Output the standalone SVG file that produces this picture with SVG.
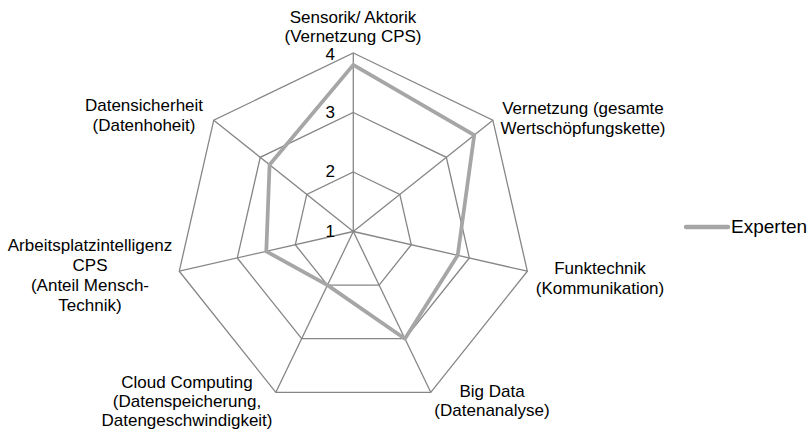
<svg xmlns="http://www.w3.org/2000/svg" width="810" height="429" viewBox="0 0 810 429">
<style>
.grid{fill:none;stroke:#868686;stroke-width:1.3}
.data{fill:none;stroke:#A6A6A6;stroke-width:3.75;stroke-linejoin:round;stroke-linecap:round}
text{font-family:"Liberation Sans",Arial,sans-serif;font-size:17px;fill:#000}
.c{text-anchor:middle}
.e{text-anchor:end}
</style>
<rect width="810" height="429" fill="#fff"/>
<g id="grid">
<polygon class="grid" points="353.3,172 399.82,194.4 411.31,244.74 379.12,285.11 327.48,285.11 295.29,244.74 306.78,194.4"/>
<polygon class="grid" points="353.3,112.5 446.34,157.31 469.32,257.98 404.93,338.72 301.67,338.72 237.28,257.98 260.26,157.31"/>
<polygon class="grid" points="353.3,53 492.86,120.21 527.33,271.22 430.75,392.32 275.85,392.32 179.27,271.22 213.74,120.21"/>
<g id="connectors">
<line class="grid" x1="353.3" y1="231.5" x2="353.3" y2="53"/>
<line class="grid" x1="353.3" y1="231.5" x2="492.86" y2="120.21"/>
<line class="grid" x1="353.3" y1="231.5" x2="527.33" y2="271.22"/>
<line class="grid" x1="353.3" y1="231.5" x2="430.75" y2="392.32"/>
<line class="grid" x1="353.3" y1="231.5" x2="275.85" y2="392.32"/>
<line class="grid" x1="353.3" y1="231.5" x2="179.27" y2="271.22"/>
<line class="grid" x1="353.3" y1="231.5" x2="213.74" y2="120.21"/>
</g>
</g>
<g id="ticks">
<text class="e" x="335" y="60">4</text>
<text class="e" x="335" y="117.5">3</text>
<text class="e" x="335" y="177">2</text>
<text class="e" x="335" y="237">1</text>
</g>
<g id="series-experten">
<polygon class="data" points="353.3,64.9 474.25,135.05 457.71,255.33 404.93,338.72 327.48,285.11 266.29,251.36 269.57,164.72"/>
</g>
<g id="axis-sensorik">
<text class="c" x="353" y="22.5">Sensorik/ Aktorik</text>
<text class="c" x="353" y="42">(Vernetzung CPS)</text>
</g>
<g id="axis-vernetzung">
<text class="c" x="583" y="113.5">Vernetzung (gesamte</text>
<text class="c" x="583" y="133.5">Wertschöpfungskette)</text>
</g>
<g id="axis-funktechnik">
<text class="c" x="600" y="274">Funktechnik</text>
<text class="c" x="600" y="293.5">(Kommunikation)</text>
</g>
<g id="axis-bigdata">
<text class="c" x="492" y="396.5">Big Data</text>
<text class="c" x="492" y="415.5">(Datenanalyse)</text>
</g>
<g id="axis-cloud">
<text class="c" x="187" y="387.5">Cloud Computing</text>
<text class="c" x="187" y="406.5">(Datenspeicherung,</text>
<text class="c" x="187" y="425.5">Datengeschwindigkeit)</text>
</g>
<g id="axis-arbeitsplatz">
<text class="c" x="90" y="250.5">Arbeitsplatzintelligenz</text>
<text class="c" x="90" y="270.5">CPS</text>
<text class="c" x="90" y="290.5">(Anteil Mensch-</text>
<text class="c" x="90" y="310.5">Technik)</text>
</g>
<g id="axis-datensicherheit">
<text class="c" x="144" y="111">Datensicherheit</text>
<text class="c" x="144" y="131">(Datenhoheit)</text>
</g>
<g id="legend">
<line x1="686" y1="227" x2="728" y2="227" stroke="#A6A6A6" stroke-width="4.5" stroke-linecap="round"/>
<text x="731" y="233" style="font-size:19px">Experten</text>
</g>
</svg>
